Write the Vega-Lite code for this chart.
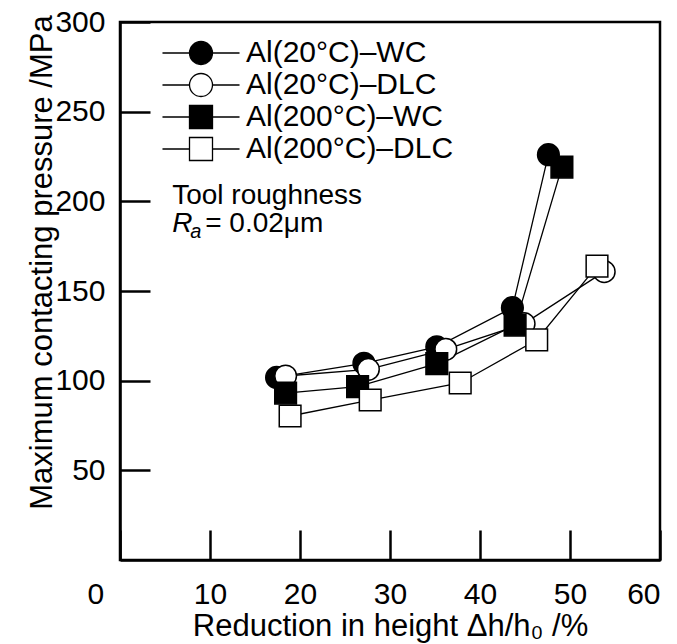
{
  "$schema": "https://vega.github.io/schema/vega-lite/v6.json",
  "width": 540,
  "height": 538,
  "autosize": "none",
  "padding": {"left": 120, "top": 22, "right": 17, "bottom": 84},
  "background": "white",
  "config": {
    "font": "Liberation Sans",
    "view": {"stroke": "black", "strokeWidth": 2.5},
    "axis": {
      "domainColor": "black", "domainWidth": 2.5,
      "tickColor": "black", "tickWidth": 2.5, "tickSize": -30,
      "labelFont": "Liberation Sans", "labelFontSize": 30, "labelColor": "black",
      "titleFont": "Liberation Sans", "titleFontSize": 31, "titleFontWeight": "normal", "titleColor": "black",
      "grid": false
    },
    "legend": {"orient": "none", "legendX": 66, "legendY": 16, "title": null, "padding": 0,
      "symbolSize": 529, "symbolStrokeColor": "black", "symbolStrokeWidth": 1.3, "symbolOpacity": 1,
      "labelFont": "Liberation Sans", "labelFontSize": 30, "labelColor": "black", "labelOffset": 30, "labelLimit": 400, "rowPadding": 2}
  },
  "datasets": {
    "main": [
      {"series": "Al(20°C)–WC", "x": 17.4, "y": 101.8},
      {"series": "Al(20°C)–WC", "x": 27.1, "y": 109.7},
      {"series": "Al(20°C)–WC", "x": 35.2, "y": 118.9},
      {"series": "Al(20°C)–WC", "x": 43.6, "y": 140.7},
      {"series": "Al(20°C)–WC", "x": 47.6, "y": 226.0},
      {"series": "Al(20°C)–DLC", "x": 18.4, "y": 102.6},
      {"series": "Al(20°C)–DLC", "x": 27.6, "y": 106.3},
      {"series": "Al(20°C)–DLC", "x": 36.2, "y": 117.5},
      {"series": "Al(20°C)–DLC", "x": 44.9, "y": 131.8},
      {"series": "Al(20°C)–DLC", "x": 53.8, "y": 160.8},
      {"series": "Al(200°C)–WC", "x": 18.4, "y": 93.1},
      {"series": "Al(200°C)–WC", "x": 26.4, "y": 96.7},
      {"series": "Al(200°C)–WC", "x": 35.2, "y": 109.5},
      {"series": "Al(200°C)–WC", "x": 43.9, "y": 131.0},
      {"series": "Al(200°C)–WC", "x": 49.1, "y": 219.1},
      {"series": "Al(200°C)–DLC", "x": 18.9, "y": 80.3},
      {"series": "Al(200°C)–DLC", "x": 27.8, "y": 89.2},
      {"series": "Al(200°C)–DLC", "x": 37.8, "y": 98.7},
      {"series": "Al(200°C)–DLC", "x": 46.3, "y": 122.7},
      {"series": "Al(200°C)–DLC", "x": 53.0, "y": 163.9}
    ]
  },
  "encoding": {
    "x": {
      "field": "x", "type": "quantitative",
      "scale": {"domain": [0, 60], "nice": false, "zero": false},
      "axis": {
        "title": "Reduction in height Δh/h₀ /%",
        "values": [0, 10, 20, 30, 40, 50, 60],
        "labelPadding": 49,
        "labelOffset": {"condition": {"test": "datum.value === 0", "value": -33}, "value": 0},
        "titlePadding": 2
      }
    },
    "y": {
      "field": "y", "type": "quantitative",
      "scale": {"domain": [0, 300], "nice": false, "zero": false},
      "axis": {
        "title": "Maximum contacting pressure /MPa",
        "values": [50, 100, 150, 200, 250, 300],
        "labelPadding": 45,
        "titleX": -62, "titleY": 240, "titleBaseline": "bottom"
      }
    }
  },
  "layer": [
    {
      "data": {"name": "main"},
      "mark": {"type": "line", "color": "black", "strokeWidth": 1.3},
      "encoding": {"detail": {"field": "series"}}
    },
    {
      "data": {"name": "main"},
      "mark": {"type": "point", "filled": true, "stroke": "black", "strokeWidth": 1.5, "size": 470, "opacity": 1},
      "encoding": {
        "shape": {"field": "series", "type": "nominal",
          "scale": {"domain": ["Al(20°C)–WC", "Al(20°C)–DLC", "Al(200°C)–WC", "Al(200°C)–DLC"], "range": ["circle", "circle", "square", "square"]},
          "legend": null},
        "fill": {"field": "series", "type": "nominal",
          "scale": {"domain": ["Al(20°C)–WC", "Al(20°C)–DLC", "Al(200°C)–WC", "Al(200°C)–DLC"], "range": ["black", "white", "black", "white"]},
          "legend": null}
      }
    },
    {
      "data": {"name": "main"},
      "transform": [{"filter": "false"}],
      "mark": {"type": "point", "filled": true, "strokeWidth": 1.3, "opacity": 1},
      "encoding": {
        "shape": {"field": "series", "type": "nominal",
          "scale": {"domain": ["Al(20°C)–WC", "Al(20°C)–DLC", "Al(200°C)–WC", "Al(200°C)–DLC"],
            "range": [
              "M-3.35,0H-1M1,0H3.35M1,0A1,1,0,1,1,-1,0A1,1,0,1,1,1,0Z",
              "M-3.35,0H-1M1,0H3.35M1,0A1,1,0,1,1,-1,0A1,1,0,1,1,1,0Z",
              "M-3.35,0H-1M1,0H3.35M-1,-1H1V1H-1Z",
              "M-3.35,0H-1M1,0H3.35M-1,-1H1V1H-1Z"
            ]},
          "legend": {}},
        "fill": {"field": "series", "type": "nominal",
          "scale": {"domain": ["Al(20°C)–WC", "Al(20°C)–DLC", "Al(200°C)–WC", "Al(200°C)–DLC"], "range": ["black", "white", "black", "white"]},
          "legend": {}},
        "stroke": {"field": "series", "type": "nominal",
          "scale": {"domain": ["Al(20°C)–WC", "Al(20°C)–DLC", "Al(200°C)–WC", "Al(200°C)–DLC"], "range": ["black", "black", "black", "black"]},
          "legend": {}}
      }
    },
    {
      "data": {"values": [{"x": 5.8, "y": 198.5, "label": "Tool roughness"}]},
      "mark": {"type": "text", "align": "left", "baseline": "alphabetic", "fontSize": 28, "color": "black"},
      "encoding": {"text": {"field": "label"}}
    },
    {
      "data": {"values": [{"x": 5.8, "y": 183, "label": "R", "sub": "a", "rest": "= 0.02μm"}]},
      "layer": [
        {"mark": {"type": "text", "align": "left", "baseline": "alphabetic", "fontSize": 28, "fontStyle": "italic", "color": "black"},
         "encoding": {"text": {"field": "label"}}},
        {"mark": {"type": "text", "align": "left", "baseline": "alphabetic", "fontSize": 20, "fontStyle": "italic", "color": "black", "dx": 18, "dy": 6},
         "encoding": {"text": {"field": "sub"}}},
        {"mark": {"type": "text", "align": "left", "baseline": "alphabetic", "fontSize": 28, "color": "black", "dx": 33},
         "encoding": {"text": {"field": "rest"}}}
      ]
    }
  ],
  "resolve": {"scale": {"shape": "independent", "fill": "independent", "stroke": "independent"}, "legend": {"shape": "independent", "fill": "independent", "stroke": "independent"}}
}
